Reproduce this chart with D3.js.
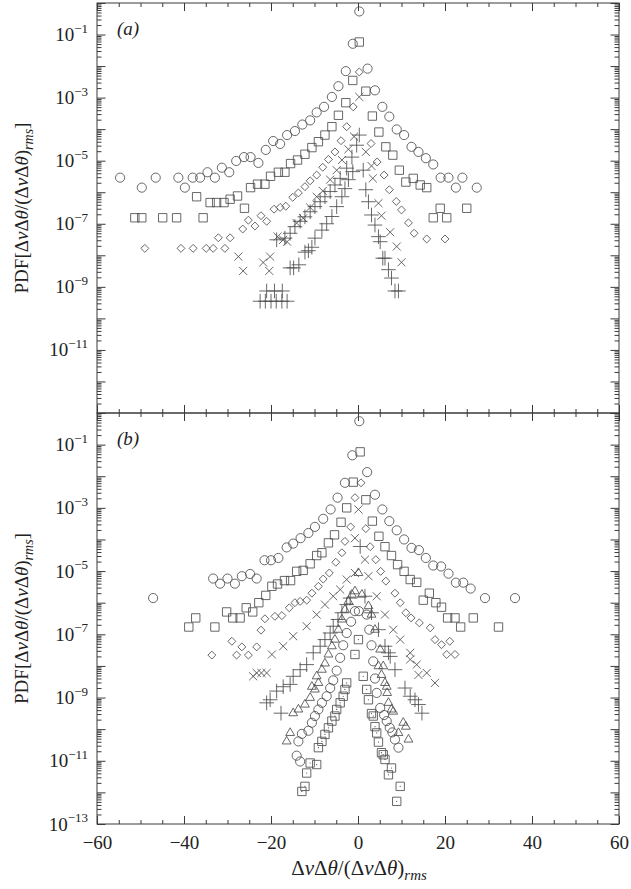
<!DOCTYPE html>
<html>
<head>
<meta charset="utf-8">
<script src="https://cdn.jsdelivr.net/npm/d3@7"></script>
<style>
  body { margin: 0; background: #fff; }
  svg text { font-family: "Liberation Serif", "Times New Roman", serif; fill: #222; }
</style>
</head>
<body>
<div id="chart"></div>
<script>
// ---- data: [x, PDF] pairs ----
const xTicks = [-60, -40, -20, 0, 20, 40, 60];
const yLabelExpsA = [-1, -3, -5, -7, -9, -11];
const yLabelExpsB = [-1, -3, -5, -7, -9, -11, -13];

// panel (a)
const aCircles = [[-54.7,2.9e-6],[-49.7,1.4e-6],[-46.5,2.9e-6],[-41.3,2.9e-6],[-39.8,1.4e-6],[-38.0,2.9e-6],[-36.3,2.9e-6],[-34.6,4.3e-6],[-32.9,2.9e-6],[-31.3,6.0e-6],[-29.6,4.3e-6],[-28.0,9.8e-6],[-26.2,1.3e-5],[-24.7,1.3e-5],[-22.9,8.5e-6],[-21.2,2.2e-5],[-19.5,4.2e-5],[-17.9,3.4e-5],[-16.3,6.5e-5],[-14.5,8.7e-5],[-12.8,1.4e-4],[-11.0,1.9e-4],[-9.5,3.4e-4],[-7.8,5.1e-4],[-6.0,1.05e-3],[-4.5,2.3e-3],[-2.8,6.9e-3],[-1.2,5.1e-2],[0.3,0.54],[2.2,8.3e-3],[3.9,1.7e-3],[5.6,5.1e-4],[7.2,2.5e-4],[8.9,9.8e-5],[10.6,6.5e-5],[12.3,2.75e-5],[13.9,1.9e-5],[15.6,1.2e-5],[17.3,7.6e-6],[19.0,2.9e-6],[20.8,2.9e-6],[22.5,1.4e-6],[24.0,2.9e-6],[27.3,1.4e-6]];
const aSquares = [[-51.3,1.55e-7],[-49.7,1.55e-7],[-44.9,1.55e-7],[-41.7,1.55e-7],[-35.6,1.55e-7],[-37.1,7.2e-7],[-34.0,4.7e-7],[-32.5,4.7e-7],[-30.8,4.7e-7],[-29.4,6.0e-7],[-27.7,7.6e-7],[-26.1,3.1e-7],[-24.7,1.4e-6],[-23.1,1.8e-6],[-21.4,1.8e-6],[-20.1,3.2e-6],[-18.3,4.3e-6],[-16.8,4.3e-6],[-15.5,8.1e-6],[-13.9,1.05e-5],[-12.2,1.6e-5],[-10.6,2.6e-5],[-9.1,4.0e-5],[-7.6,6.5e-5],[-6.0,1.2e-4],[-4.5,2.75e-4],[-2.8,6.9e-4],[-1.2,3.5e-3],[0.3,5.8e-2],[1.8,1.6e-3],[3.3,2.6e-4],[4.8,8.1e-5],[6.4,2.75e-5],[8.0,1.5e-5],[9.5,5.0e-6],[11.0,2.1e-6],[12.7,2.75e-6],[14.3,1.7e-6],[15.8,1.4e-6],[17.3,1.55e-7],[18.9,3.1e-7],[20.4,1.55e-7],[25.0,3.1e-7]];
const aDiamonds = [[-49.0,1.66e-8],[-40.7,1.66e-8],[-37.9,1.66e-8],[-34.9,1.66e-8],[-33.3,1.66e-8],[-32.1,3.6e-8],[-30.6,1.66e-8],[-29.4,3.6e-8],[-26.5,6.8e-8],[-25.2,1.3e-7],[-23.7,8.5e-8],[-22.3,1.8e-7],[-21.0,1.2e-7],[-19.3,2.9e-7],[-17.9,3.3e-7],[-16.6,3.6e-7],[-15.0,6.9e-7],[-13.7,9.5e-7],[-12.2,1.5e-6],[-11.0,2.3e-6],[-9.5,3.5e-6],[-8.1,6.2e-6],[-6.8,1.1e-5],[-5.3,1.9e-5],[-3.9,4.3e-5],[-2.6,1.2e-4],[-1.1,5.1e-4],[0.3,6.5e-3],[3.0,3.5e-5],[4.4,9.1e-6],[6.0,3.5e-6],[7.2,1.2e-6],[8.8,5.1e-7],[10.0,2.75e-7],[11.6,1.07e-7],[12.9,5.0e-8],[15.8,3.3e-8],[20.0,3.3e-8]];
const aTimes = [[-27.5,9.1e-9],[-26.4,3.2e-9],[-21.8,5.9e-9],[-20.2,9.1e-9],[-20.4,3.2e-9],[-18.5,3.9e-8],[-17.2,3.1e-8],[-16.3,2.7e-8],[-14.1,1.05e-7],[-12.6,1.5e-7],[-11.0,3.3e-7],[-9.5,7.2e-7],[-8.1,1.1e-6],[-6.4,2.5e-6],[-4.9,5.0e-6],[-3.7,1.05e-5],[-2.2,2.3e-5],[-0.9,5.8e-5],[0.3,1.05e-3],[1.8,1.9e-5],[3.1,6.8e-6],[3.4,2.75e-6],[4.7,4.5e-7],[5.4,1.8e-7],[7.4,5.4e-8],[8.9,1.9e-8],[10.0,6.0e-9]];
const aPlusUpper = [[-18.7,3.1e-8],[-16.8,3.5e-8],[-15.6,5.0e-8],[-14.5,8.1e-8],[-13.3,1.2e-7],[-12.2,1.66e-7],[-11.0,2.4e-7],[-9.9,3.5e-7],[-8.7,5.0e-7],[-7.6,7.2e-7],[-6.4,1.05e-6],[-5.3,1.7e-6],[-4.1,2.75e-6],[-2.6,5.8e-6],[-1.4,1.3e-5],[-0.3,3.1e-5]];
const aPlus = [[-22.5,3.5e-10],[-21.3,3.5e-10],[-20.0,3.5e-10],[-18.8,3.5e-10],[-17.5,3.5e-10],[-16.3,3.5e-10],[-21.0,7.4e-10],[-19.2,7.4e-10],[-17.4,7.4e-10],[-15.6,4.0e-9],[-14.8,4.0e-9],[-13.6,5.0e-9],[-12.2,1.26e-8],[-11.4,1.4e-8],[-10.6,1.8e-8],[-9.9,3.5e-8],[-8.3,6.3e-8],[-7.2,1.0e-7],[-6.0,1.7e-7],[-4.9,3.5e-7],[-3.7,7.2e-7],[-3.0,1.3e-6],[-2.2,2.5e-6],[-1.2,4.5e-6],[0.3,6.5e-5],[1.2,5.0e-6],[1.8,1.2e-6],[2.4,5.0e-7],[3.1,1.9e-7],[3.9,9.1e-8],[4.7,3.9e-8],[5.1,2.7e-8],[5.7,8.1e-9],[6.2,8.1e-9],[7.0,3.5e-9],[7.7,1.9e-9],[8.5,7.4e-10],[9.3,7.4e-10]];

// panel (b)
const bCircles = [[-47.1,1.4e-6],[-33.3,5.8e-6],[-31.7,4.0e-6],[-30.0,5.8e-6],[-28.3,4.0e-6],[-26.7,6.9e-6],[-24.8,8.1e-6],[-23.3,5.8e-6],[-21.5,2.2e-5],[-20.0,2.2e-5],[-18.3,2.6e-5],[-16.4,5.6e-5],[-14.9,7.4e-5],[-13.2,1.1e-4],[-11.4,1.6e-4],[-9.9,2.5e-4],[-8.0,4.5e-4],[-6.3,8.9e-4],[-4.7,2.1e-3],[-3.0,6.2e-3],[-1.3,4.6e-2],[0.3,0.55],[2.1,1.35e-2],[3.9,2.6e-3],[5.6,8.9e-4],[7.2,3.8e-4],[8.9,1.95e-4],[10.6,1.0e-4],[12.3,5.4e-5],[14.0,4.6e-5],[15.6,2.6e-5],[17.3,1.5e-5],[19.1,1.4e-5],[20.8,8.3e-6],[22.5,4.3e-6],[24.2,4.3e-6],[25.9,2.8e-6],[29.2,1.4e-6],[36.1,1.4e-6]];
const bSquares = [[-38.9,1.7e-7],[-37.3,3.3e-7],[-32.9,1.7e-7],[-30.2,5.1e-7],[-28.8,3.3e-7],[-27.1,3.3e-7],[-25.7,6.9e-7],[-24.2,5.1e-7],[-22.8,1.0e-6],[-21.2,1.7e-6],[-19.8,3.3e-6],[-18.5,3.9e-6],[-16.9,5.0e-6],[-15.5,5.0e-6],[-14.1,9.8e-6],[-12.6,1.05e-5],[-11.0,1.7e-5],[-9.5,3.1e-5],[-8.3,3.8e-5],[-6.8,7.8e-5],[-5.4,1.4e-4],[-3.9,3.5e-4],[-2.6,1.0e-3],[-1.1,6.5e-3],[0.5,5.9e-2],[1.8,1.8e-3],[3.3,3.8e-4],[4.8,1.26e-4],[6.2,5.9e-5],[7.7,3.1e-5],[9.1,1.6e-5],[10.6,9.8e-6],[12.0,5.4e-6],[13.5,4.4e-6],[15.0,1.2e-6],[16.4,2.0e-6],[17.9,1.0e-6],[19.2,7.2e-7],[20.6,3.3e-7],[22.3,3.3e-7],[23.6,1.7e-7],[26.5,3.3e-7],[32.3,1.7e-7]];
const bDiamonds = [[-33.6,2.2e-8],[-29.0,6.0e-8],[-27.9,2.2e-8],[-26.7,4.0e-8],[-25.2,2.2e-8],[-23.3,4.0e-8],[-22.3,1.35e-7],[-21.4,3.1e-7],[-19.1,3.7e-7],[-17.5,3.9e-7],[-15.8,6.9e-7],[-14.5,1.0e-6],[-13.3,1.1e-6],[-11.8,1.2e-6],[-10.6,2.0e-6],[-9.1,3.3e-6],[-8.0,5.6e-6],[-6.6,8.7e-6],[-5.1,1.9e-5],[-3.7,3.8e-5],[-3.0,8.7e-5],[-1.7,2.5e-4],[-0.7,2.1e-3],[0.7,6.2e-3],[1.8,2.2e-4],[2.8,5.9e-5],[4.1,2.3e-5],[5.2,9.8e-6],[6.4,4.8e-6],[8.5,2.0e-6],[9.7,1.0e-6],[11.0,4.8e-7],[12.2,3.3e-7],[14.1,2.3e-7],[16.6,1.6e-7],[17.7,6.8e-8],[19.2,4.7e-8],[21.1,6.0e-8],[20.4,2.3e-8],[22.3,2.3e-8]];
const bTimes = [[-24.1,4.7e-9],[-23.3,6.0e-9],[-22.2,6.0e-9],[-21.0,6.0e-9],[-19.8,2.3e-8],[-17.2,4.2e-8],[-14.9,8.7e-8],[-11.8,1.8e-7],[-9.5,4.2e-7],[-7.6,8.7e-7],[-5.7,1.6e-6],[-4.1,2.6e-6],[-2.6,5.4e-6],[-0.7,8.7e-6],[-0.7,1.1e-4],[0.1,8.9e-4],[1.6,2.3e-5],[2.4,6.9e-6],[4.3,1.6e-6],[6.2,4.2e-7],[8.1,1.4e-7],[9.7,6.8e-8],[12.0,2.6e-8],[12.0,1.6e-8],[13.5,1.1e-8],[13.9,5.2e-9],[15.8,6.0e-9],[17.7,2.9e-9]];
const bPlus = [[-17.7,3.2e-10],[-21.0,6.8e-10],[-20.2,8.5e-10],[-18.7,1.6e-9],[-17.2,2.2e-9],[-15.6,2.6e-9],[-14.9,4.7e-9],[-13.3,7.6e-9],[-11.8,1.1e-8],[-10.3,2.6e-8],[-8.7,4.2e-8],[-7.6,6.8e-8],[-6.4,1.1e-7],[-5.7,1.8e-7],[-4.6,2.95e-7],[-3.7,4.8e-7],[-2.6,8.7e-7],[-1.8,1.4e-6],[0.5,6.0e-5],[1.6,1.6e-6],[3.1,4.8e-7],[4.7,1.4e-7],[6.2,4.2e-8],[7.0,2.6e-8],[7.4,2.0e-8],[8.5,7.6e-9],[10.8,2.0e-9],[12.0,1.1e-9],[13.1,8.5e-10],[13.9,6.0e-10],[14.7,3.2e-10]];
const bTriangles = [[-16.4,4.1e-11],[-15.6,7.6e-11],[-14.9,3.2e-10],[-13.7,4.2e-10],[-12.2,6.0e-10],[-11.0,9.8e-10],[-10.6,2.2e-9],[-9.9,1.8e-9],[-9.5,4.7e-9],[-9.1,2.9e-9],[-8.3,7.6e-9],[-7.6,1.2e-8],[-6.8,2.3e-8],[-6.0,4.2e-8],[-5.3,6.8e-8],[-4.5,1.4e-7],[-3.7,2.95e-7],[-3.0,6.0e-7],[-2.2,1.1e-6],[-1.4,1.8e-6],[-0.7,2.3e-6],[0.1,8.7e-6],[0.9,1.8e-6],[2.4,7.8e-7],[3.1,4.2e-7],[3.9,1.4e-7],[5.1,3.3e-8],[5.8,9.8e-9],[4.7,9.8e-9],[5.4,5.2e-9],[6.2,2.9e-9],[6.6,2.2e-9],[6.7,1.4e-9],[7.0,6.8e-10],[7.7,4.2e-10],[8.1,3.6e-10],[10.4,1.6e-10],[11.0,1.2e-10],[9.3,7.6e-11],[11.6,4.7e-11]];
const bSmallCircles = [[-14.1,1.45e-11],[-13.3,9.5e-12],[-13.7,4.1e-11],[-12.9,7.1e-11],[-11.4,8.9e-11],[-10.6,1.6e-10],[-9.9,2.6e-10],[-9.1,4.2e-10],[-8.3,6.8e-10],[-7.2,1.1e-9],[-6.4,2.0e-9],[-5.7,3.5e-9],[-4.9,7.1e-9],[-4.1,1.8e-8],[-3.4,4.5e-8],[-2.6,1.1e-7],[-1.6,2.5e-7],[-0.7,5.4e-7],[0.2,5.4e-7],[2.0,4.2e-7],[2.6,1.4e-7],[3.1,4.5e-8],[3.5,1.4e-8],[3.9,4.0e-9],[4.3,1.4e-9],[5.1,4.7e-10],[6.0,2.8e-10],[6.6,1.8e-10],[7.3,1.1e-10],[7.9,7.9e-11],[8.5,4.7e-11],[9.3,2.6e-11]];
const bDotSquares = [[-12.9,1.07e-12],[-12.2,1.55e-12],[-11.8,4.1e-12],[-11.0,8.5e-12],[-9.5,7.6e-12],[-9.1,2.6e-11],[-8.3,4.1e-11],[-7.6,6.8e-11],[-6.8,1.1e-10],[-6.0,1.8e-10],[-5.3,2.6e-10],[-4.9,4.2e-10],[-4.1,6.8e-10],[-3.4,1.1e-9],[-3.0,1.8e-9],[-2.6,2.9e-9],[-0.7,2.3e-8],[0.1,6.8e-8],[1.2,4.7e-9],[2.0,1.8e-9],[2.4,8.5e-10],[3.1,3.1e-10],[3.5,2.6e-10],[3.9,1.2e-10],[4.3,7.6e-11],[4.7,3.9e-11],[5.4,1.8e-11],[5.8,1.55e-11],[6.2,1.1e-11],[7.0,3.6e-12],[7.7,5.9e-12],[8.9,5.2e-13],[9.7,1.55e-12]];

// ---- layout ----
const W = 631, H = 889;
const left = 97, right = 619;
const panels = [
  { top: 3, bottom: 413, label: "(a)", exps: yLabelExpsA,
    series: [["circle", aCircles], ["square", aSquares], ["diamond", aDiamonds], ["times", aTimes],
             ["plus", aPlusUpper], ["plus", aPlus]] },
  { top: 413, bottom: 824, label: "(b)", exps: yLabelExpsB,
    series: [["circle", bCircles], ["square", bSquares], ["diamond", bDiamonds], ["times", bTimes], ["plus", bPlus],
             ["triangle", bTriangles], ["circle", bSmallCircles], ["dotsquare", bDotSquares]] }
];

const ink = "#3a3a3a";
const markInk = "#4d4d4d";
const svg = d3.select("#chart").append("svg").attr("width", W).attr("height", H);

const x = d3.scaleLinear().domain([-60, 60]).range([left, right]);
const xMinor = d3.range(-60, 61, 5);

const symbols = {
  circle: d3.symbol().type(d3.symbolCircle).size(66),
  square: d3.symbol().type(d3.symbolSquare).size(70),
  dotsquare: d3.symbol().type(d3.symbolSquare).size(70),
  diamond: d3.symbol().type(d3.symbolDiamond2).size(40),
  times: d3.symbol().type(d3.symbolTimes).size(44),
  plus: d3.symbol().type(d3.symbolPlus).size(72),
  triangle: d3.symbol().type(d3.symbolTriangle2).size(56)
};

function styleAxis(g) {
  g.select(".domain").remove();
  g.selectAll(".tick line").attr("stroke", ink).attr("stroke-width", 1);
}

panels.forEach((p, pi) => {
  const y = d3.scaleLog().domain([1e-13, 1]).range([p.bottom, p.top]);
  const decades = d3.range(0, 14).map(k => Math.pow(10, -k));
  const minors = [];
  decades.slice(1).forEach(d => { for (let m = 2; m <= 9; m++) minors.push(d * m); });

  // y ticks (inward on both sides)
  svg.append("g").attr("transform", `translate(${left},0)`)
    .call(d3.axisLeft(y).tickValues(decades).tickSize(-8.5).tickFormat("")).call(styleAxis);
  svg.append("g").attr("transform", `translate(${left},0)`)
    .call(d3.axisLeft(y).tickValues(minors).tickSize(-4.5).tickFormat("")).call(styleAxis);
  svg.append("g").attr("transform", `translate(${right},0)`)
    .call(d3.axisRight(y).tickValues(decades).tickSize(-8.5).tickFormat("")).call(styleAxis);
  svg.append("g").attr("transform", `translate(${right},0)`)
    .call(d3.axisRight(y).tickValues(minors).tickSize(-4.5).tickFormat("")).call(styleAxis);

  // x ticks on top and bottom of each panel, inward
  svg.append("g").attr("transform", `translate(0,${p.top})`)
    .call(d3.axisTop(x).tickValues(xTicks).tickSize(-8).tickFormat("")).call(styleAxis);
  svg.append("g").attr("transform", `translate(0,${p.top})`)
    .call(d3.axisTop(x).tickValues(xMinor).tickSize(-4).tickFormat("")).call(styleAxis);
  const xb = svg.append("g").attr("transform", `translate(0,${p.bottom})`)
    .call(d3.axisBottom(x).tickValues(xTicks).tickSize(-8).tickPadding(11.5)
      .tickFormat(pi === 1 ? d3.format("d") : ""));
  xb.call(styleAxis);
  xb.selectAll(".tick text").attr("fill", "#222").style("font-size", "19px").style("font-family", "Liberation Serif, serif");
  svg.append("g").attr("transform", `translate(0,${p.bottom})`)
    .call(d3.axisBottom(x).tickValues(xMinor).tickSize(-4).tickFormat("")).call(styleAxis);

  // frame
  svg.append("rect").attr("x", left).attr("y", p.top).attr("width", right - left).attr("height", p.bottom - p.top)
    .attr("fill", "none").attr("stroke", ink).attr("stroke-width", 1);

  // y tick labels 10^k
  const lab = svg.append("g").selectAll("text").data(p.exps).join("text")
    .attr("x", left - 9).attr("y", d => y(Math.pow(10, d)) + 6.5)
    .attr("text-anchor", "end").style("font-size", "19px");
  lab.append("tspan").text("10");
  lab.append("tspan").attr("dy", -8.5).style("font-size", "13px").text(d => "\u2212" + (-d));

  // panel label
  svg.append("text").attr("x", 117).attr("y", p.top + 32).style("font-size", "19px")
    .style("font-style", "italic").text(p.label);

  // y axis title
  const cy = (p.top + p.bottom) / 2;
  const t = svg.append("text").attr("transform", `translate(28,${cy}) rotate(-90)`)
    .attr("text-anchor", "middle").style("font-size", "19px");
  [["PDF[\u0394", 0], ["v", 1], ["\u0394", 0], ["\u03b8", 1], ["/(\u0394", 0], ["v", 1], ["\u0394", 0], ["\u03b8", 1], [")", 0]]
    .forEach(([s, it]) => t.append("tspan").style("font-style", it ? "italic" : "normal").text(s));
  t.append("tspan").attr("dy", 5).style("font-size", "14px").style("font-style", "italic").text("rms");
  t.append("tspan").attr("dy", -5).text("]");

  // data
  p.series.forEach(([kind, data]) => {
    const g = svg.append("g").attr("fill", "none").attr("stroke", markInk).attr("stroke-width", 0.85);
    g.selectAll("path").data(data).join("path")
      .attr("transform", d => `translate(${x(d[0])},${y(d[1])})`)
      .attr("d", symbols[kind]());
    if (kind === "dotsquare") {
      g.selectAll("circle").data(data).join("circle")
        .attr("cx", d => x(d[0])).attr("cy", d => y(d[1])).attr("r", 0.6)
        .attr("fill", markInk).attr("stroke", "none");
    }
  });
});

// x axis title
const xt = svg.append("text").attr("x", 359).attr("y", 875).attr("text-anchor", "middle").style("font-size", "21px");
[["\u0394", 0], ["v", 1], ["\u0394", 0], ["\u03b8", 1], ["/(\u0394", 0], ["v", 1], ["\u0394", 0], ["\u03b8", 1], [")", 0]]
  .forEach(([s, it]) => xt.append("tspan").style("font-style", it ? "italic" : "normal").text(s));
xt.append("tspan").attr("dy", 5).style("font-size", "15px").style("font-style", "italic").text("rms");
</script>
</body>
</html>
